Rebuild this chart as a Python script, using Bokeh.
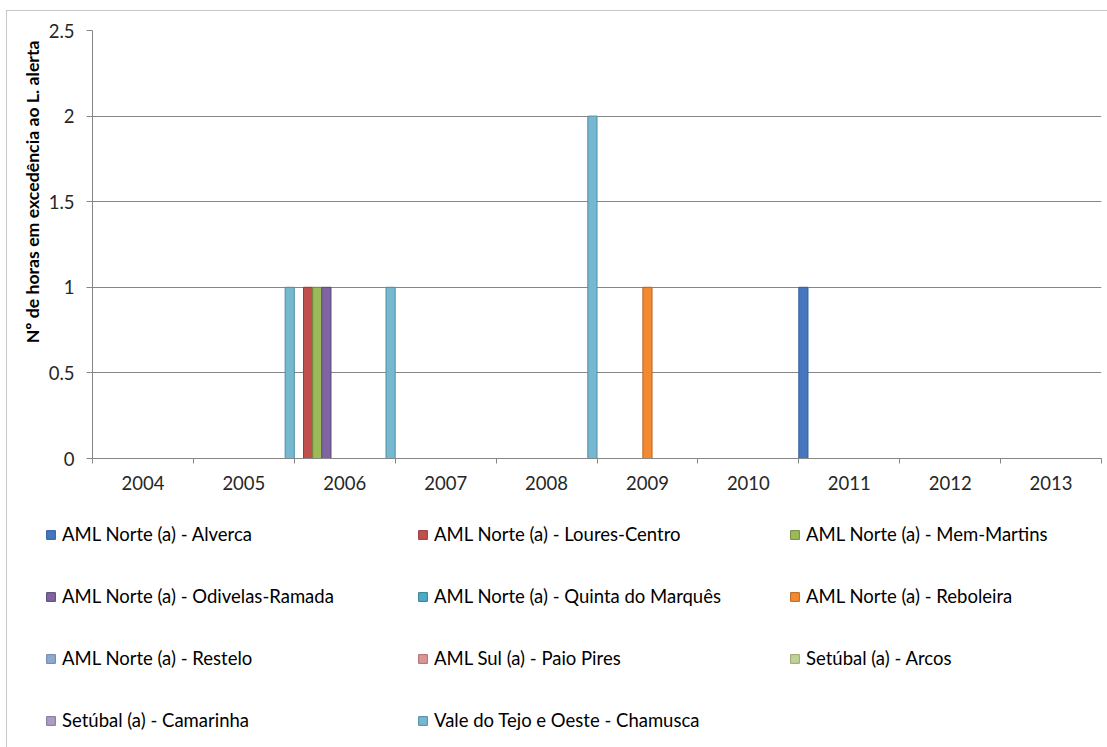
import math
from bokeh.plotting import figure
from bokeh.layouts import column
from bokeh.models import FixedTicker, Legend, LegendItem, ColumnDataSource, Title, NumeralTickFormatter
from bokeh.embed import file_html
from bokeh.resources import INLINE

years = ["2004", "2005", "2006", "2007", "2008", "2009", "2010", "2011", "2012", "2013"]

series_names = [
    "AML Norte (a) - Alverca",
    "AML Norte (a) - Loures-Centro",
    "AML Norte (a) - Mem-Martins",
    "AML Norte (a) - Odivelas-Ramada",
    "AML Norte (a) - Quinta do Marquês",
    "AML Norte (a) - Reboleira",
    "AML Norte (a) - Restelo",
    "AML Sul (a) - Paio Pires",
    "Setúbal (a) - Arcos",
    "Setúbal (a) - Camarinha",
    "Vale do Tejo e Oeste - Chamusca",
]

alverca = [0, 0, 0, 0, 0, 0, 0, 1, 0, 0]
loures_centro = [0, 0, 1, 0, 0, 0, 0, 0, 0, 0]
mem_martins = [0, 0, 1, 0, 0, 0, 0, 0, 0, 0]
odivelas_ramada = [0, 0, 1, 0, 0, 0, 0, 0, 0, 0]
quinta_do_marques = [0, 0, 0, 0, 0, 0, 0, 0, 0, 0]
reboleira = [0, 0, 0, 0, 0, 1, 0, 0, 0, 0]
restelo = [0, 0, 0, 0, 0, 0, 0, 0, 0, 0]
paio_pires = [0, 0, 0, 0, 0, 0, 0, 0, 0, 0]
arcos = [0, 0, 0, 0, 0, 0, 0, 0, 0, 0]
camarinha = [0, 0, 0, 0, 0, 0, 0, 0, 0, 0]
chamusca = [0, 1, 1, 0, 2, 0, 0, 0, 0, 0]

y_ticks = [0, 0.5, 1, 1.5, 2, 2.5]

all_values = [alverca, loures_centro, mem_martins, odivelas_ramada, quinta_do_marques,
              reboleira, restelo, paio_pires, arcos, camarinha, chamusca]

fills = ["#4677BE", "#C0504D", "#9BBB59", "#8064A2", "#4BACC6", "#F38A32",
         "#8EA9CF", "#D99694", "#BFD195", "#AC9BC4", "#76B8D0"]
lines = ["#2F5F9E", "#963A37", "#71893F", "#5C4776", "#357D91", "#B8661F",
         "#6B86AE", "#B06E6C", "#97A96F", "#857499", "#4F8EA6"]

FONT = "Lato"
GRID = "#868686"
FS = "18.5px"

p = figure(width=1100, height=490, x_range=(0, len(years)), y_range=(0, 2.5),
           output_backend="svg", toolbar_location=None,
           min_border_left=85, min_border_right=6, min_border_top=19, min_border_bottom=43)
p.outline_line_color = None
p.background_fill_color = "white"
p.border_fill_color = "white"

n = len(series_names)
for k in range(n):
    xs, tops = [], []
    for i, v in enumerate(all_values[k]):
        if v != 0:
            xs.append(i + (k + 0.5) / n)
            tops.append(v)
    src = ColumnDataSource(dict(x=xs, top=tops))
    p.vbar(x="x", top="top", bottom=0, width=1.0 / n, source=src,
           fill_color=fills[k], line_color=lines[k], line_width=1)

# axes
p.xgrid.grid_line_color = None
p.ygrid.grid_line_color = GRID
p.ygrid.ticker = FixedTicker(ticks=y_ticks)

p.yaxis.ticker = FixedTicker(ticks=y_ticks)
p.yaxis.formatter = NumeralTickFormatter(format="0.[0]")
p.yaxis.axis_line_color = GRID
p.yaxis.major_tick_line_color = GRID
p.yaxis.major_tick_out = 6
p.yaxis.major_tick_in = 0
p.yaxis.minor_tick_line_color = None
p.yaxis.major_label_text_font = FONT
p.yaxis.major_label_text_font_size = FS
p.yaxis.major_label_text_color = "#262626"
p.yaxis.major_label_standoff = 12

centers = [i + 0.5 for i in range(len(years))]
bounds = [i for i in range(len(years) + 1)]
p.xaxis.ticker = FixedTicker(ticks=centers, minor_ticks=bounds)
p.xaxis.major_label_overrides = {c: y for c, y in zip(centers, years)}
p.xaxis.axis_line_color = GRID
p.xaxis.major_tick_line_color = None
p.xaxis.major_tick_out = 0
p.xaxis.major_tick_in = 0
p.xaxis.minor_tick_line_color = GRID
p.xaxis.minor_tick_out = 5
p.xaxis.minor_tick_in = 0
p.xaxis.major_label_text_font = FONT
p.xaxis.major_label_text_font_size = FS
p.xaxis.major_label_text_color = "#262626"
p.xaxis.major_label_standoff = 12

ytitle = Title(text="Nº de horas em excedência ao L. alerta", align="right", offset=10,
               text_font=FONT, text_font_style="bold", text_font_size="17.7px",
               text_color="black", standoff=6)
p.add_layout(ytitle, "left")

# legend figure (legend swatches use proxy renderers out of view)
q = figure(width=1100, height=246, x_range=(0, len(years)), y_range=(10, 11),
           output_backend="svg", toolbar_location=None,
           x_axis_type=None, y_axis_type=None,
           min_border_left=0, min_border_right=0, min_border_top=0, min_border_bottom=0)
q.outline_line_color = None
q.xgrid.grid_line_color = None
q.ygrid.grid_line_color = None
q.border_fill_color = "white"
for fig in (p, q):
    if "frame_align" in fig.properties():
        fig.frame_align = False

items = []
for k in range(n):
    xs = [i + (k + 0.5) / n for i in range(len(years))]
    src = ColumnDataSource(dict(x=xs, top=all_values[k]))
    r = q.vbar(x="x", top="top", bottom=0, width=1.0 / n, source=src,
               fill_color=fills[k], line_color=lines[k], line_width=1)
    items.append(LegendItem(label=series_names[k], renderers=[r]))

legend = Legend(items=items, location=(38, 16), orientation="horizontal", ncols=3,
                glyph_width=11, glyph_height=11, label_standoff=6, label_width=315,
                label_height=22, spacing=40, padding=0, margin=0,
                border_line_color=None, background_fill_alpha=0,
                label_text_font=FONT, label_text_font_size=FS, label_text_color="black")
q.add_layout(legend, "center")

layout = column(p, q, spacing=0)
layout.margin = (10, 0, 0, 6)
layout.styles = {"border-left": "1px solid #C8C8C8", "border-top": "1px solid #C8C8C8"}

open("out.html", "w").write(file_html(layout, INLINE))
